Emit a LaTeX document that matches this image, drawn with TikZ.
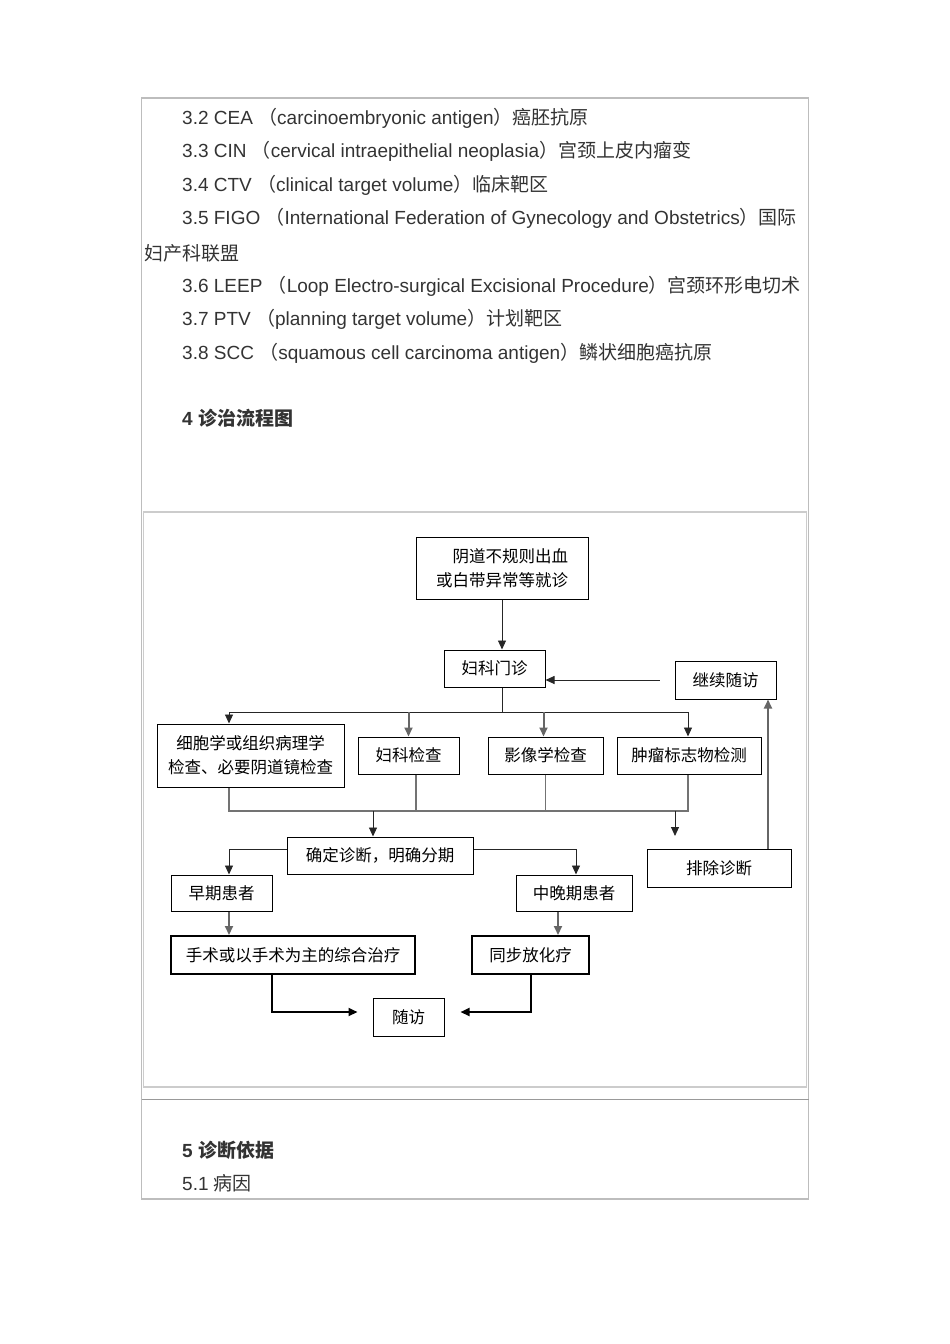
\documentclass[tikz,border=0pt]{standalone}
\usepackage{fontspec}
\setmainfont{Liberation Sans}
\newfontfamily\cjk{Noto Sans CJK SC}
\usetikzlibrary{arrows.meta}
\definecolor{ink}{HTML}{333333}
\definecolor{framegray}{HTML}{BDBDBD}
\tikzstyle{textline}=[anchor=base west,inner sep=0pt,text=ink,font=\fontsize{19}{23}\selectfont]
\tikzstyle{flowbox}=[draw=black,line width=1pt,inner sep=0pt,align=center,font=\cjk\fontsize{16.5}{24}\selectfont]
\tikzstyle{heavybox}=[flowbox,line width=2pt]
\tikzstyle{wire}=[draw=black!85,line width=0.9pt]
\tikzstyle{greywire}=[draw=black!55,line width=1.2pt]
\tikzstyle{arrowline}=[wire,-{Triangle[length=9pt,width=8pt]}]
\tikzstyle{greyarrow}=[draw=black!60,line width=2pt,-{Triangle[length=9pt,width=8pt]}]
\tikzstyle{boldarrow}=[draw=black,line width=2pt,-{Triangle[length=9pt,width=8pt]}]

\begin{document}
\begin{tikzpicture}[x=1pt,y=-1pt]
\useasboundingbox (0,0) rectangle (950,1344);
% page frame
\draw[framegray,line width=1.2pt] (141.5,98) rectangle (808.5,1199);
\draw[black!40,line width=1.5pt] (141.5,1099.5) -- (808.5,1099.5);
\draw[black!20,line width=1.2pt] (143.5,512) rectangle (806.5,1087);

% glossary
\node[textline] (cea) at (182,124) {3.2 CEA {\cjk （}carcinoembryonic antigen{\cjk ）癌胚抗原}};
\node[textline] (cin) at (182,157.5) {3.3 CIN {\cjk （}cervical intraepithelial neoplasia{\cjk ）宫颈上皮内瘤变}};
\node[textline] (ctv) at (182,191) {3.4 CTV {\cjk （}clinical target volume{\cjk ）临床靶区}};
\node[textline] (figo) at (182,224.5) {3.5 FIGO {\cjk （}International Federation of Gynecology and Obstetrics{\cjk ）国际}};
\node[textline] (figo2) at (144,260) {\cjk 妇产科联盟};
\node[textline] (leep) at (182,292) {3.6 LEEP {\cjk （}Loop Electro-surgical Excisional Procedure{\cjk ）宫颈环形电切术}};
\node[textline] (ptv) at (182,325.5) {3.7 PTV {\cjk （}planning target volume{\cjk ）计划靶区}};
\node[textline] (scc) at (182,359) {3.8 SCC {\cjk （}squamous cell carcinoma antigen{\cjk ）鳞状细胞癌抗原}};
\node[textline,font=\bfseries\fontsize{19}{23}\selectfont] (sec4) at (182,425) {4 {\cjk 诊治流程图}};
\node[textline,font=\bfseries\fontsize{19}{23}\selectfont] (sec5) at (182,1157) {5 {\cjk 诊断依据}};
\node[textline] (cause) at (182,1190) {5.1 {\cjk 病因}};

% flow chart
\node[flowbox,minimum width=172,minimum height=62,align=right] (visit) at (502,568) {阴道不规则出血\\或白带异常等就诊};
\node[flowbox,minimum width=101,minimum height=37] (opd) at (494.5,668.5) {妇科门诊};
\node[flowbox,minimum width=101,minimum height=38] (follow) at (725.5,680) {继续随访};
\node[flowbox,minimum width=187,minimum height=63] (cyto) at (250.5,755.5) {细胞学或组织病理学\\检查、必要阴道镜检查};
\node[flowbox,minimum width=101,minimum height=37] (gyn) at (408.5,755.5) {妇科检查};
\node[flowbox,minimum width=115,minimum height=37] (img) at (545.5,755.5) {影像学检查};
\node[flowbox,minimum width=144,minimum height=37] (tumor) at (689,755.5) {肿瘤标志物检测};
\node[flowbox,minimum width=186,minimum height=37] (diag) at (380,855.5) {确定诊断，明确分期};
\node[flowbox,minimum width=144,minimum height=38] (excl) at (719,868) {排除诊断};
\node[flowbox,minimum width=101,minimum height=36] (early) at (221.5,893) {早期患者};
\node[flowbox,minimum width=116,minimum height=36] (late) at (574,893) {中晚期患者};
\node[heavybox,minimum width=244,minimum height=38] (surg) at (293,955) {手术或以手术为主的综合治疗};
\node[heavybox,minimum width=117,minimum height=38] (chemo) at (530.5,955) {同步放化疗};
\node[flowbox,minimum width=71,minimum height=38] (fu) at (408.5,1017) {随访};

\coordinate (fan) at (502.5,712);
\coordinate (fanL) at (229,712);
\coordinate (fanR) at (688,712);
\coordinate (joinL) at (229,811);
\coordinate (joinR) at (688,811);
\coordinate (toDiag) at (373,811);
\coordinate (toExcl) at (675,811);
\coordinate (exclTip) at (675,836);
\coordinate (back) at ([xshift=-15]follow.west);

\draw[arrowline] (visit.south) -- (visit.south |- opd.north);
\draw[arrowline] (back) -- (back -| opd.east);
\draw[wire] (opd.south -| fan) -- (fan);
\draw[wire] (fanL) -- (fanR);
\draw[arrowline] (fanL) -- (fanL |- cyto.north);
\draw[greyarrow] (gyn.north |- fan) -- (gyn.north);
\draw[greyarrow] ([xshift=-2]img.north |- fan) -- ([xshift=-2]img.north);
\draw[arrowline] (fanR) -- (fanR |- tumor.north);
\draw[greywire] (joinL |- cyto.south) -- (joinL) -- (joinR) -- (joinR |- tumor.south);
\draw[greywire] ([xshift=7.5]gyn.south) -- ([xshift=7.5]gyn.south |- joinL);
\draw[greywire] (img.south) -- (img.south |- joinL);
\draw[arrowline] (toDiag) -- (toDiag |- diag.north);
\draw[arrowline] (toExcl) -- (exclTip);
\draw[greyarrow] ([xshift=49]excl.north) -- ([xshift=49]excl.north |- follow.south);
\draw[arrowline] ([yshift=6.5]diag.west) -| ([xshift=7.5]early.north);
\draw[arrowline] ([yshift=6.5]diag.east) -| ([xshift=2]late.north);
\draw[greyarrow] ([xshift=7.5]early.south) -- ([xshift=7.5]early.south |- surg.north);
\draw[greyarrow] ([xshift=-16]late.south) -- ([xshift=-16]late.south |- chemo.north);
\draw[boldarrow] ([xshift=-21]surg.south) |- ([xshift=-15,yshift=5]fu.west);
\draw[boldarrow] (chemo.south) |- ([xshift=16,yshift=5]fu.east);
\end{tikzpicture}
\end{document}
